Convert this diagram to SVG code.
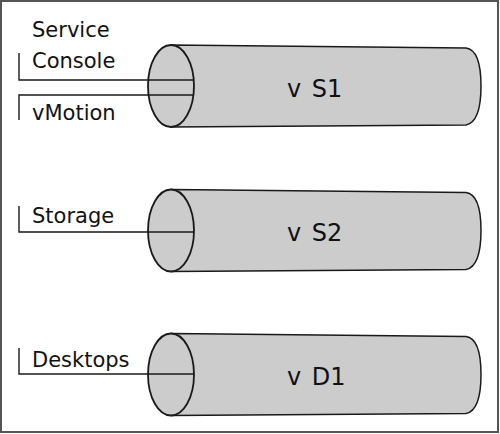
<svg xmlns="http://www.w3.org/2000/svg" width="500" height="434" viewBox="0 0 500 434">
<style>
.body{fill:#cccccc;stroke:#1a1a1a;stroke-width:1.5}
.cap{fill:#cccccc;stroke:#1a1a1a;stroke-width:1.8}
.lead{fill:none;stroke:#1a1a1a;stroke-width:1.4}
.lbl{font-family:"DejaVu Sans",sans-serif;font-size:21px;fill:#111}
.name{font-family:"DejaVu Sans",sans-serif;font-size:24px;fill:#111;word-spacing:3px}
</style>
<defs>
<g id="cyl">
<path class="body" d="M171,-41 L466,-38 Q481,-36 481,0 Q481,36 466,39 L171,41 Z"/>
<ellipse class="cap" cx="171" cy="0" rx="23" ry="41"/>
</g>
</defs>
<rect x="1" y="1" width="497" height="431" fill="#ffffff" stroke="#555555" stroke-width="2"/>
<g id="vS1">
<use href="#cyl" transform="translate(0,86)"/>
<text class="name" x="287" y="97">v S1</text>
</g>
<g id="vS2">
<use href="#cyl" transform="translate(0,230.5)"/>
<text class="name" x="287" y="241">v S2</text>
</g>
<g id="vD1">
<use href="#cyl" transform="translate(0,374.5)"/>
<text class="name" x="287" y="385">v D1</text>
</g>
<g id="connectors">
<polyline class="lead" points="19,53 19,80 194,80"/>
<polyline class="lead" points="19,120 19,95 194,95"/>
<polyline class="lead" points="19,206 19,232 194,232"/>
<polyline class="lead" points="19,348 19,374 194,374"/>
</g>
<g id="labels">
<text class="lbl" x="32" y="37">Service</text>
<text class="lbl" x="32" y="68">Console</text>
<text class="lbl" x="32" y="120">vMotion</text>
<text class="lbl" x="32" y="223">Storage</text>
<text class="lbl" x="32" y="367">Desktops</text>
</g>
</svg>
